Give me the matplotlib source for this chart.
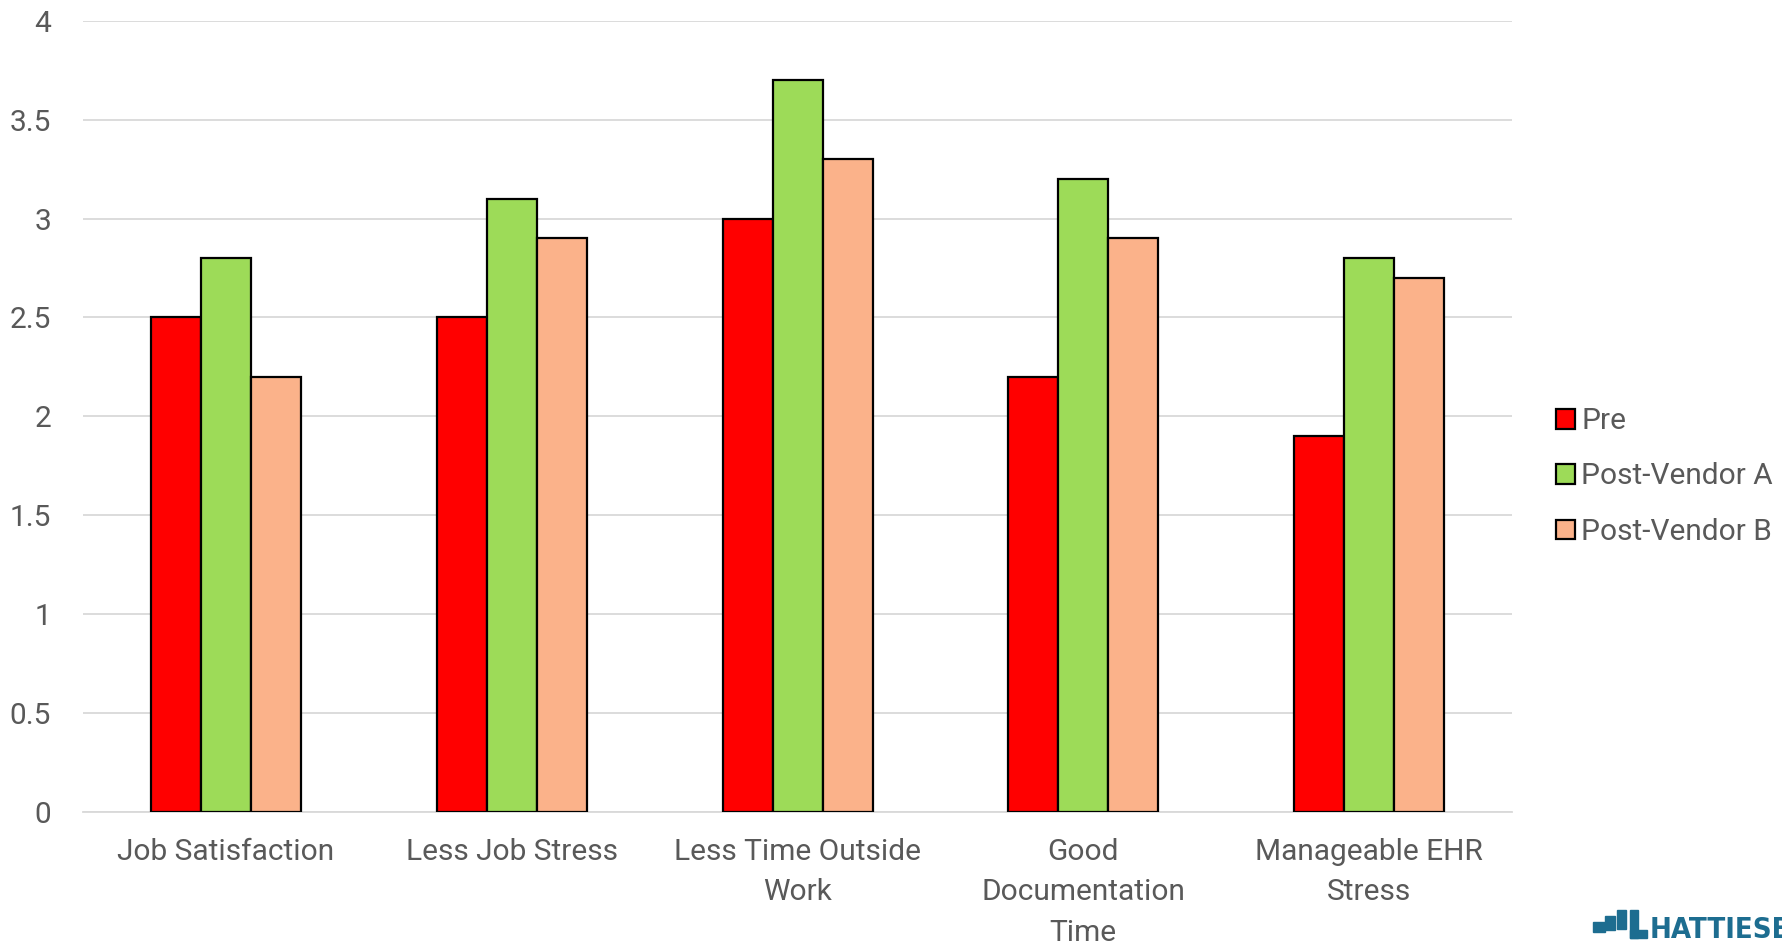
import numpy as np
import matplotlib.pyplot as plt
from matplotlib.patches import Patch, Rectangle

plt.rcParams['font.family'] = ['Roboto', 'DejaVu Sans']

categories = ['Job Satisfaction', 'Less Job Stress', 'Less Time Outside\nWork',
              'Good\nDocumentation\nTime', 'Manageable EHR\nStress']
series_names = ['Pre', 'Post-Vendor A', 'Post-Vendor B']
pre = [2.5, 2.5, 3.0, 2.2, 1.9]
vendor_a = [2.8, 3.1, 3.7, 3.2, 2.8]
vendor_b = [2.2, 2.9, 3.3, 2.9, 2.7]
y_ticks = [0, 0.5, 1, 1.5, 2, 2.5, 3, 3.5, 4]

colors = ['#ff0000', '#9ddb58', '#fbb28a']
text_color = '#595959'
grid_color = '#d9d9d9'

fig = plt.figure(figsize=(17.83, 9.43), dpi=100)
ax = fig.add_axes([0.0466, 0.139, 0.8014, 0.839])

x = np.arange(len(categories))
width = 0.175
for i, (vals, col) in enumerate(zip([pre, vendor_a, vendor_b], colors)):
    ax.bar(x + (i - 1) * width, vals, width, color=col, edgecolor='black',
           linewidth=1.6, zorder=3)

ax.set_xlim(-0.5, len(categories) - 0.5)
ax.set_ylim(0, 4)
ax.set_yticks(y_ticks)
ax.set_yticklabels([f'{t:g}' for t in y_ticks])
ax.set_xticks(x)
ax.set_xticklabels(categories, linespacing=1.55)

ax.grid(axis='y', color=grid_color, linewidth=1.3, zorder=0)
for s in ['top', 'right', 'left']:
    ax.spines[s].set_visible(False)
ax.spines['bottom'].set_color(grid_color)
ax.spines['bottom'].set_linewidth(1.3)
ax.tick_params(axis='both', length=0, labelsize=21.5, colors=text_color)
ax.tick_params(axis='y', pad=23)
ax.tick_params(axis='x', pad=19)

handles = [Patch(facecolor=c, edgecolor='black', linewidth=1.6) for c in colors]
fig.legend(handles, series_names, loc='center left',
           bbox_to_anchor=(0.8727, 0.4947), frameon=False, fontsize=21.5,
           labelcolor=text_color, handlelength=0.65, handleheight=0.65,
           handletextpad=0.2, labelspacing=0.92, borderpad=0, borderaxespad=0)

# small logo in the bottom right corner
logo_blue = '#1d6d90'
W, H = fig.get_size_inches() * fig.dpi
for bx, by, bw, bh in [(1593, 922, 12, 10), (1605, 916, 10, 14),
                       (1617, 910, 9, 19), (1630, 910, 8, 28),
                       (1630, 930, 17, 8)]:
    fig.patches.append(Rectangle((bx / W, 1 - (by + bh) / H), bw / W, bh / H,
                                 transform=fig.transFigure, color=logo_blue))
fig.text(1650 / W, 1 - 938 / H, 'HATTIESBURG', fontsize=21, fontweight='bold',
         fontstretch='condensed', color=logo_blue, family='DejaVu Sans',
         ha='left', va='baseline')

fig.savefig('out.png', dpi=100)
